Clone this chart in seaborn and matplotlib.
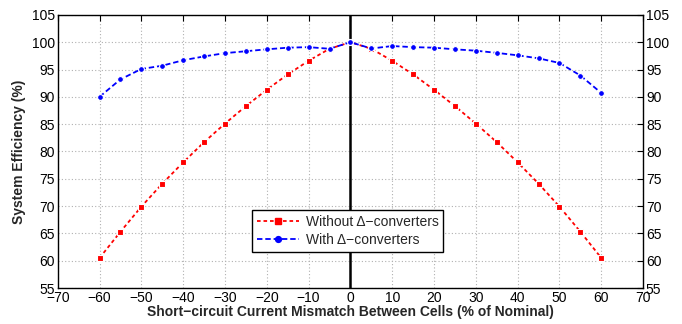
import numpy as np
import pandas as pd
import matplotlib
matplotlib.use("Agg")
import matplotlib.pyplot as plt
import seaborn as sns

# Mismatch levels (% of nominal short-circuit current)
mismatch = [-60, -55, -50, -45, -40, -35, -30, -25, -20, -15, -10, -5, 0,
            5, 10, 15, 20, 25, 30, 35, 40, 45, 50, 55, 60]

# System efficiency without differential converters (%)
eff_without = [60.5, 65.3, 69.9, 74.1, 78.0, 81.7, 85.1, 88.3, 91.3, 94.1, 96.6, 98.8, 100.0,
               98.8, 96.6, 94.1, 91.3, 88.3, 85.1, 81.7, 78.0, 74.1, 69.9, 65.3, 60.5]

# System efficiency with differential converters (%)
eff_with = [90.0, 93.2, 95.1, 95.7, 96.7, 97.4, 98.0, 98.35, 98.7, 99.0, 99.1, 98.8, 100.0,
            98.85, 99.3, 99.1, 99.0, 98.7, 98.45, 98.05, 97.6, 97.05, 96.2, 93.9, 90.7]

label_without = "Without \u0394\u2212converters"
label_with = "With \u0394\u2212converters"

df = pd.DataFrame({
    "mismatch": mismatch * 2,
    "efficiency": eff_without + eff_with,
    "series": [label_without] * len(mismatch) + [label_with] * len(mismatch),
})

sns.set_theme(style="white")
plt.rcParams["font.family"] = ["Liberation Sans", "DejaVu Sans"]

fig = plt.figure(figsize=(6.82, 3.24), dpi=100)
ax = fig.add_axes([0.0846, 0.111, 0.8584, 0.843])

sns.lineplot(data=df, x="mismatch", y="efficiency", hue="series", style="series",
             palette={label_without: "#ff0000", label_with: "#0000ff"},
             markers={label_without: "s", label_with: "o"},
             dashes={label_without: (2, 1.6), label_with: (3, 1.6)},
             markersize=4.2, markeredgewidth=0.8, linewidth=1.3, ax=ax,
             legend=False)

# vertical reference line at zero mismatch
ax.axvline(0, color="black", linewidth=1.8, zorder=1)

ax.set_xlim(-70, 70)
ax.set_ylim(55, 105)
ax.set_xticks(np.arange(-70, 71, 10))
ax.set_yticks(np.arange(55, 106, 5))
ax.set_xticklabels([str(v).replace("-", "\u2212") for v in range(-70, 71, 10)])
ax.grid(True, color="#b0b0b0", linestyle=(0, (1, 2)), linewidth=0.8)
for s in ax.spines.values():
    s.set_color("black")
    s.set_linewidth(1.0)
ax.tick_params(axis="both", direction="in", length=4, width=0.8, colors="black",
               labelsize=10, top=True, right=True, labelright=True, pad=2)

ax.set_xlabel("Short\u2212circuit Current Mismatch Between Cells (% of Nominal)",
              fontsize=10, fontweight="bold", labelpad=0)
ax.set_ylabel("System Efficiency (%)", fontsize=10, fontweight="bold", labelpad=4)

from matplotlib.lines import Line2D
handles = [
    Line2D([], [], color="#ff0000", linestyle=(0, (2, 1.6)), marker="s", markersize=4.2, linewidth=1.3),
    Line2D([], [], color="#0000ff", linestyle=(0, (3, 1.6)), marker="o", markersize=4.2, linewidth=1.3),
]
leg = ax.legend(handles, [label_without, label_with], loc="center",
                bbox_to_anchor=(0.4955, 0.2085), fontsize=10, frameon=True,
                fancybox=False, edgecolor="black", framealpha=1,
                handlelength=3.0, handletextpad=0.5, borderpad=0.35, labelspacing=0.25)
leg.get_frame().set_linewidth(1.0)

fig.savefig("out.png", dpi=100)
